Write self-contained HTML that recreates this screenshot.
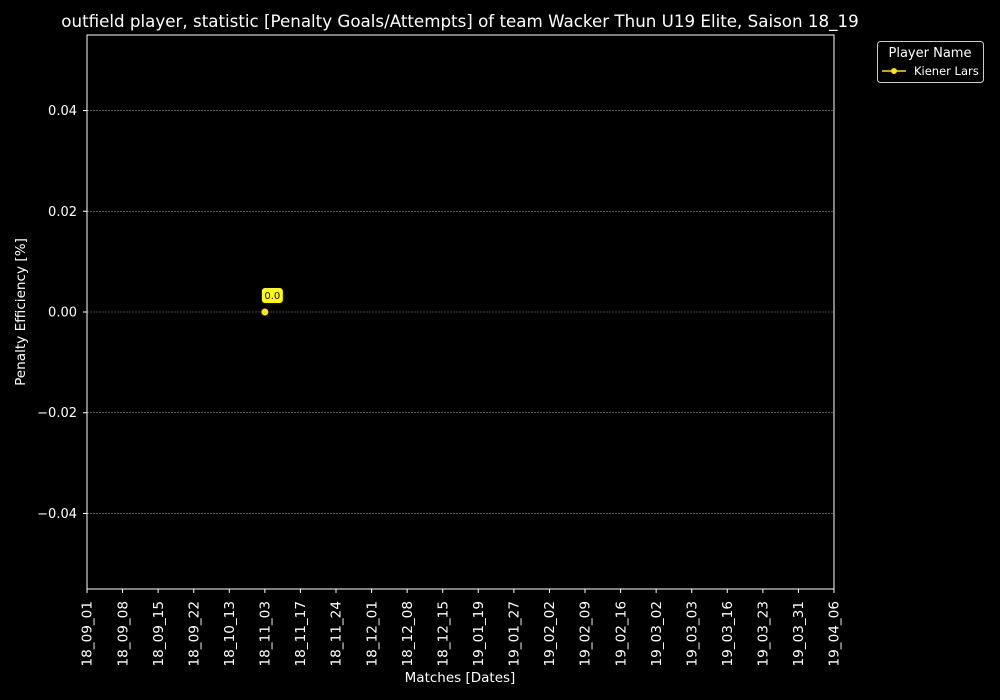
<!DOCTYPE html>
<html><head><meta charset="utf-8"><style>
html,body{margin:0;padding:0;background:#000;}
svg{display:block;font-family:"DejaVu Sans","Liberation Sans",sans-serif;}
</style></head><body>
<svg id="chart" width="1000" height="700" xmlns="http://www.w3.org/2000/svg">
<rect width="1000" height="700" fill="#000"/>
<text x="460" y="27" fill="#fff" font-size="16.7" text-anchor="middle">outfield player, statistic [Penalty Goals/Attempts] of team Wacker Thun U19 Elite, Saison 18_19</text>
<g id="grid"></g>
<g id="yaxis"></g>
<g id="xaxis"></g>
<rect x="87" y="35" width="747" height="554" fill="none" stroke="#fff" stroke-width="1"/>
<g id="series"></g>
<text x="25" y="312" fill="#fff" font-size="13.6" text-anchor="middle" transform="rotate(-90 25 312)">Penalty Efficiency [%]</text>
<text x="460" y="682" fill="#fff" font-size="13.5" text-anchor="middle">Matches [Dates]</text>
<g>
<rect x="877.5" y="41.5" width="106" height="41" rx="3" fill="#000" stroke="#ccc" stroke-width="1"/>
<text x="930" y="57" fill="#fff" font-size="13" text-anchor="middle">Player Name</text>
<g>
<line x1="882" y1="71" x2="906" y2="71" stroke="#ffe600" stroke-width="1.5"/>
<circle cx="894" cy="71" r="3" fill="#ffe600"/>
<text x="914" y="75" fill="#fff" font-size="11.5">Kiener Lars</text>
</g>
</g>
</svg>
<script>
const categories=["18_09_01","18_09_08","18_09_15","18_09_22","18_10_13","18_11_03","18_11_17","18_11_24","18_12_01","18_12_08","18_12_15","19_01_19","19_01_27","19_02_02","19_02_09","19_02_16","19_03_02","19_03_03","19_03_16","19_03_23","19_03_31","19_04_06"];
const seriesDates=["18_11_03"];
const seriesValues=[0.0];
const yTicks=[-0.04,-0.02,0.00,0.02,0.04];
const yTickLabels=["\u22120.04","\u22120.02","0.00","0.02","0.04"];
const NS="http://www.w3.org/2000/svg";
const X0=87,X1=834,Y0=35,Y1=589,YMIN=-0.055,YMAX=0.055;
function xs(i){return X0+i*(X1-X0)/(categories.length-1);}
function ys(v){return Y1-(v-YMIN)/(YMAX-YMIN)*(Y1-Y0);}
function mk(tag,attrs,parent){const e=document.createElementNS(NS,tag);for(const k in attrs)e.setAttribute(k,attrs[k]);parent.appendChild(e);return e;}
const grid=document.getElementById('grid'),ya=document.getElementById('yaxis'),xa=document.getElementById('xaxis'),se=document.getElementById('series');
yTicks.forEach((v,i)=>{const y=ys(v);
 const g=mk('line',{x1:X0,x2:X1,y1:y,y2:y,stroke:'#888','stroke-width':0.6,'stroke-dasharray':'2,1'},grid);
 
 
 mk('line',{x1:X0-4,x2:X0,y1:y,y2:y,stroke:'#fff'},ya);
 const t=mk('text',{x:X0-10,y:y+4.5,fill:'#fff','font-size':13,'text-anchor':'end'},ya);
 t.textContent=yTickLabels[i];
 
 
});
categories.forEach((c,i)=>{const x=xs(i);
 mk('line',{x1:x,x2:x,y1:Y1,y2:Y1+4,stroke:'#fff'},xa);
 const t=mk('text',{x:x+4.7,y:Y1+12,fill:'#fff','font-size':13.6,'text-anchor':'end',transform:`rotate(-90 ${x+4.7} ${Y1+12})`},xa);
 t.textContent=c;
 
 
});
seriesDates.forEach((d,k)=>{const i=categories.indexOf(d);const x=xs(i),y=ys(seriesValues[k]);
 const p=mk('circle',{cx:x,cy:y,r:3.5,fill:'#ffe600'},se);
 
 
 const b=mk('rect',{x:x-3,y:y-24,width:21,height:15,rx:3,fill:'#ffff00'},se);
 
 
 const t=mk('text',{x:x+7.5,y:y-13,fill:'#000','font-size':10,'text-anchor':'middle'},se);
 t.textContent=seriesValues[k].toFixed(1);
 
 
});
</script>
</body></html>
